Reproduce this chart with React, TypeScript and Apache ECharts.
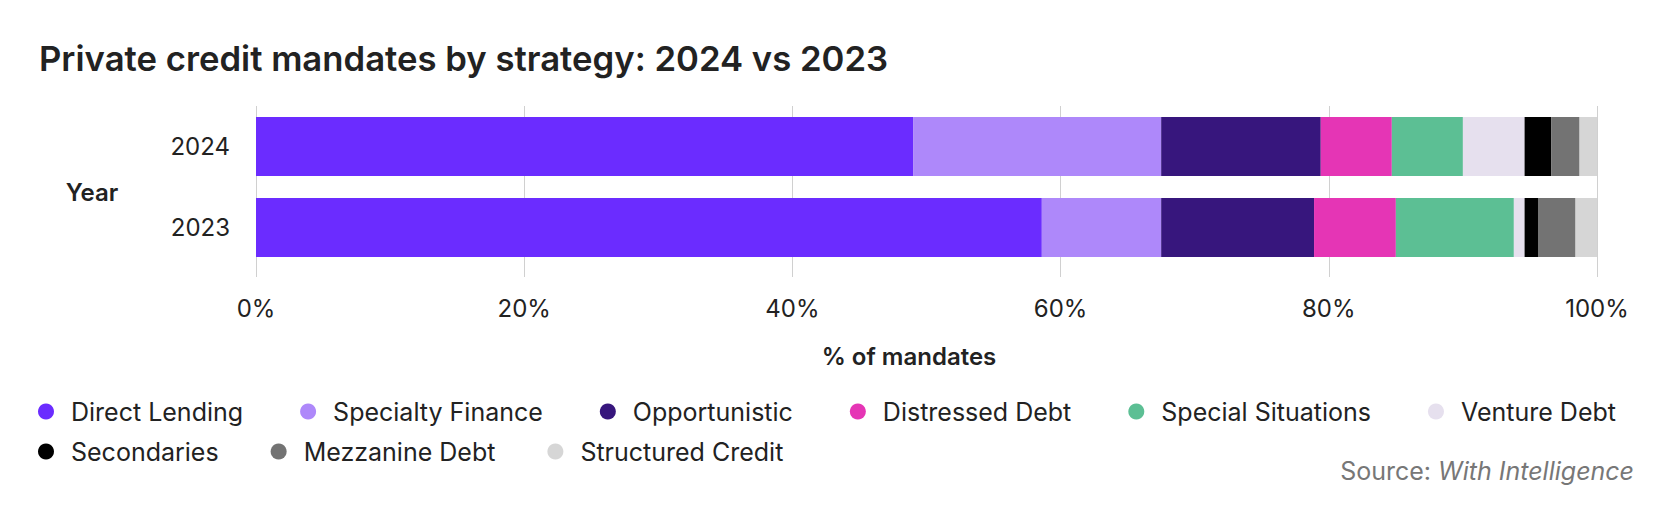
import React, { useEffect, useRef } from "react";
import * as echarts from "echarts";

const years = ["2024", "2023"];
const strategies = [
  "Direct Lending",
  "Specialty Finance",
  "Opportunistic",
  "Distressed Debt",
  "Special Situations",
  "Venture Debt",
  "Secondaries",
  "Mezzanine Debt",
  "Structured Credit",
];
const colors = [
  "#6b2cff",
  "#ae88fa",
  "#37167d",
  "#e535b5",
  "#5cbf94",
  "#e6e0ee",
  "#000000",
  "#737373",
  "#d6d6d6",
];
// % of mandates, [2024, 2023]
const directLending = [49.0, 58.6];
const specialtyFinance = [18.5, 8.9];
const opportunistic = [11.9, 11.4];
const distressedDebt = [5.3, 6.1];
const specialSituations = [5.3, 8.8];
const ventureDebt = [4.6, 0.8];
const secondaries = [2.0, 1.0];
const mezzanineDebt = [2.1, 2.8];
const structuredCredit = [1.3, 1.6];
const xTicks = [0, 20, 40, 60, 80, 100];

const seriesValues = [
  directLending,
  specialtyFinance,
  opportunistic,
  distressedDebt,
  specialSituations,
  ventureDebt,
  secondaries,
  mezzanineDebt,
  structuredCredit,
];

const FONT = "Inter, 'Noto Sans', sans-serif";

export default function App() {
  const ref = useRef<HTMLDivElement>(null);
  useEffect(() => {
    if (!ref.current) return;
    const chart = echarts.init(ref.current, undefined, { renderer: "svg" });
    const legendCommon = {
      icon: "circle",
      itemWidth: 40,
      itemHeight: 16,
      selectedMode: false,
      textStyle: { fontSize: 25, color: "#222", fontFamily: FONT },
    };
    chart.setOption({
      animation: false,
      textStyle: { fontFamily: FONT },
      title: {
        text: "Private credit mandates by strategy: 2024 vs 2023",
        left: 34,
        top: 35,
        textStyle: { fontSize: 34.7, fontWeight: 600, color: "#222", fontFamily: FONT },
      },
      legend: [
        { ...legendCommon, itemGap: 57, left: 33, top: 394, data: strategies.slice(0, 6) },
        { ...legendCommon, itemGap: 52, left: 33, top: 434, data: strategies.slice(6) },
      ],
      grid: { left: 256, right: 57, top: 106, height: 162, containLabel: false },
      xAxis: {
        type: "value",
        min: xTicks[0],
        max: xTicks[xTicks.length - 1],
        interval: 20,
        axisLine: { show: false },
        axisTick: { show: true, length: 9, lineStyle: { color: "#d0d0d0" } },
        splitLine: { show: true, lineStyle: { color: "#d0d0d0" } },
        axisLabel: {
          margin: 28,
          fontSize: 24,
          color: "#222",
          fontFamily: FONT,
          formatter: (v: number) => v + "%",
        },
      },
      yAxis: {
        type: "category",
        data: years,
        inverse: true,
        axisLine: { show: false },
        axisTick: { show: false },
        axisLabel: { margin: 26, fontSize: 24, color: "#222", fontFamily: FONT },
      },
      graphic: [
        {
          type: "text",
          x: 909,
          y: 356,
          style: {
            text: "% of mandates",
            fontSize: 24,
            fontWeight: 600,
            fill: "#222",
            fontFamily: FONT,
            align: "center",
            verticalAlign: "middle",
          },
        },
        {
          type: "text",
          x: 92,
          y: 192,
          style: {
            text: "Year",
            fontSize: 24,
            fontWeight: 600,
            fill: "#222",
            fontFamily: FONT,
            align: "center",
            verticalAlign: "middle",
          },
        },
        {
          type: "text",
          right: 20,
          top: 458,
          style: {
            text: "{a|Source: }{b|With Intelligence}",
            fontFamily: FONT,
            rich: {
              a: { fontSize: 25, fill: "#777", fontFamily: FONT },
              b: { fontSize: 25, fill: "#777", fontStyle: "italic", fontFamily: FONT },
            },
          },
        },
      ],
      series: strategies.map((name, i) => ({
        name,
        type: "bar",
        stack: "total",
        barWidth: 59,
        itemStyle: { color: colors[i] },
        data: seriesValues[i],
      })),
    });
    return () => chart.dispose();
  }, []);
  return <div ref={ref} style={{ width: 1654, height: 512, margin: -8 }} />;
}
